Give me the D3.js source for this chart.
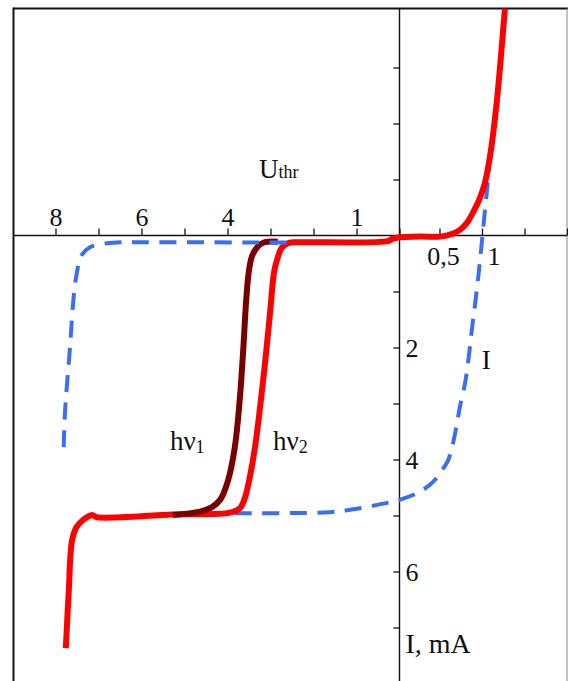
<!DOCTYPE html>
<html>
<head>
<meta charset="utf-8">
<script src="https://cdn.jsdelivr.net/npm/d3@7"></script>
<style>
  html, body { margin: 0; padding: 0; background: #fff; }
  svg { display: block; }
  text { font-family: "Liberation Serif", "Times New Roman", serif; fill: #111; }
</style>
</head>
<body>
<svg id="chart" width="568" height="681"></svg>
<script>
// Voltage in volts (reverse bias negative), current in mA (reverse current negative)

// Main characteristic, hv2 illumination
const curveHv2 = [
  [-7.76, -7.37], [-7.69, -6.33], [-7.62, -5.47], [-7.52, -5.22], [-7.36, -5.08],
  [-7.15, -4.99], [-7.04, -5.03], [-5.27, -4.98], [-3.94, -4.95], [-3.71, -4.87],
  [-3.59, -4.67], [-3.48, -4.31], [-3.36, -3.78], [-3.17, -2.58], [-3.01, -1.38],
  [-2.92, -0.67], [-2.85, -0.44], [-2.73, -0.21], [-2.57, -0.13], [-2.31, -0.12],
  [-0.27, -0.10], [-0.17, -0.06], [-0.06, -0.04], [0.26, -0.02], [0.51, -0.02],
  [0.65, 0.03], [0.74, 0.10], [0.82, 0.22], [0.89, 0.40], [0.965, 0.63],
  [1.035, 0.94], [1.106, 1.53], [1.176, 2.42], [1.229, 3.31], [1.27, 4.06]
];

// Breakdown branch under hv1 illumination
const curveHv1 = [
  [-5.27, -4.99], [-4.64, -4.93], [-4.36, -4.85], [-4.17, -4.72], [-3.99, -4.38],
  [-3.83, -3.78], [-3.71, -2.88], [-3.63, -1.99], [-3.56, -1.10], [-3.50, -0.62],
  [-3.43, -0.37], [-3.31, -0.21], [-3.17, -0.13], [-2.83, -0.11]
];

// Dashed current curve I: upper-left branch
const curveIUpper = [
  [-7.81, -3.78], [-7.78, -3.17], [-7.73, -2.63], [-7.68, -2.17], [-7.64, -1.74],
  [-7.59, -1.21], [-7.52, -0.74], [-7.39, -0.35], [-7.20, -0.21], [-6.81, -0.14],
  [-6.43, -0.12], [-6.04, -0.12], [-2.57, -0.125]
];

// Dashed current curve I: lower-right branch
const curveILower = [
  [-3.83, -4.96], [-1.62, -4.94], [-1.08, -4.89], [-0.52, -4.81], [0, -4.72],
  [0.256, -4.575], [0.42, -4.40], [0.53, -4.19], [0.60, -4.02], [0.655, -3.74],
  [0.70, -3.40], [0.74, -3.06], [0.80, -2.64], [0.84, -2.22], [0.88, -1.69], [0.92, -1.21],
  [0.956, -0.74], [0.985, -0.32], [1.006, 0], [1.035, 0.455], [1.065, 0.90], [1.082, 1.2]
];

// Axis ticks and labels
const xTicks = [-8, -7, -6, -5, -4, -3, -2, -1, 0, 0.5, 1, 1.5, 2];
const xLeftLabels = { "-8": "8", "-6": "6", "-4": "4", "-1": "1" };
const xRightLabels = [{ v: 0.5, text: "0,5", dx: 4 }, { v: 1, text: "1", dx: 12 }];
const yTicks = [3, 2, 1, 0, -1, -2, -3, -4, -5, -6, -7];
const yLabels = [{ v: -2, text: "2" }, { v: -4, text: "4" }, { v: -6, text: "6" }];

// Free annotations [voltage, current]
const notes = [
  { at: [-5.34, -3.83], main: "hν", sub: "1", anchor: "start" },
  { at: [-2.94, -3.83], main: "hν", sub: "2", anchor: "start" },
  { at: [-3.27, 1.03], main: "U", sub: "thr", anchor: "start", subBase: true },
  { at: [1.05, -2.38], main: "I", sub: "", anchor: "middle" }
];

const W = 568, H = 681;
const frame = { left: 13.5, top: 8.5, right: 567, bottom: 681 };

const x = d3.scaleLinear().domain([-8, 0, 0.5, 2]).range([55.5, 399.5, 439.5, 567]);
const y = d3.scaleLinear().domain([0, -7]).range([235.5, 627.5]);

const svg = d3.select("#chart");

svg.append("defs").append("clipPath").attr("id", "plotClip")
  .append("rect")
  .attr("x", frame.left).attr("y", frame.top)
  .attr("width", frame.right - frame.left).attr("height", frame.bottom - frame.top);

// Frame
svg.append("line").attr("x1", frame.left).attr("x2", W).attr("y1", frame.top).attr("y2", frame.top)
  .attr("stroke", "#111").attr("stroke-width", 2);
svg.append("line").attr("x1", frame.left).attr("x2", frame.left).attr("y1", frame.top - 1).attr("y2", H)
  .attr("stroke", "#111").attr("stroke-width", 2);
svg.append("line").attr("x1", frame.right).attr("x2", frame.right).attr("y1", frame.top).attr("y2", H)
  .attr("stroke", "#999").attr("stroke-width", 1.2);

// Axis lines
svg.append("line").attr("x1", frame.left).attr("x2", frame.right).attr("y1", y(0)).attr("y2", y(0))
  .attr("stroke", "#111").attr("stroke-width", 1.4);
svg.append("line").attr("x1", x(0)).attr("x2", x(0)).attr("y1", frame.top).attr("y2", H)
  .attr("stroke", "#111").attr("stroke-width", 1.4);

// X axis ticks (pointing up) with reverse-voltage labels
const gx = svg.append("g").attr("transform", `translate(0,${y(0)})`)
  .call(d3.axisTop(x).tickValues(xTicks).tickSize(7).tickSizeOuter(0)
    .tickFormat(d => xLeftLabels[String(d)] || ""));
gx.select(".domain").remove();
gx.selectAll(".tick line").attr("stroke", "#111").attr("stroke-width", 1.3);
gx.selectAll(".tick text").attr("font-family", "Liberation Serif, serif")
  .attr("font-size", 26).attr("fill", "#111");
gx.attr("font-family", null);

// Forward-voltage labels below the axis
svg.selectAll("text.xr").data(xRightLabels).join("text")
  .attr("class", "xr")
  .attr("x", d => x(d.v) + d.dx).attr("y", y(0) + 29)
  .attr("text-anchor", "middle").attr("font-size", 26)
  .text(d => d.text);

// Y axis ticks (pointing left) with current labels on the right
const gy = svg.append("g").attr("transform", `translate(${x(0)},0)`)
  .call(d3.axisLeft(y).tickValues(yTicks).tickSize(6).tickSizeOuter(0).tickFormat(""));
gy.select(".domain").remove();
gy.selectAll(".tick line").attr("stroke", "#111").attr("stroke-width", 1.3);

svg.selectAll("text.yl").data(yLabels).join("text")
  .attr("class", "yl")
  .attr("x", x(0) + 6).attr("y", d => y(d.v)).attr("dy", "0.35em")
  .attr("font-size", 26)
  .text(d => d.text);

svg.append("text").attr("x", x(0) + 6).attr("y", y(-7) + 25)
  .attr("font-size", 28).text("I, mA");

// Curves
const line = d3.line().x(d => x(d[0])).y(d => y(d[1])).curve(d3.curveCatmullRom.alpha(0.5));
const plot = svg.append("g").attr("clip-path", "url(#plotClip)");

plot.append("path").attr("d", line(curveILower))
  .attr("fill", "none").attr("stroke", "#3a6ef6").attr("stroke-width", 4)
  .attr("stroke-dasharray", "17,10.5");

plot.append("path").attr("d", line(curveHv2))
  .attr("fill", "none").attr("stroke", "#ff0000").attr("stroke-width", 6)
  .attr("stroke-linejoin", "round");

plot.append("path").attr("d", line(curveHv1))
  .attr("fill", "none").attr("stroke", "#780000").attr("stroke-width", 6)
  .attr("stroke-linejoin", "round");

plot.append("path").attr("d", line(curveIUpper))
  .attr("fill", "none").attr("stroke", "#3a6ef6").attr("stroke-width", 4)
  .attr("stroke-dasharray", "17,10.5");

// Annotations with subscripts
notes.forEach(n => {
  const t = svg.append("text")
    .attr("x", x(n.at[0])).attr("y", y(n.at[1]))
    .attr("text-anchor", n.anchor).attr("font-size", 27);
  t.append("tspan").text(n.main);
  if (n.sub) {
    t.append("tspan").attr("font-size", 18)
      .attr("dy", n.subBase ? 0 : 3).text(n.sub);
  }
});
</script>
</body>
</html>
